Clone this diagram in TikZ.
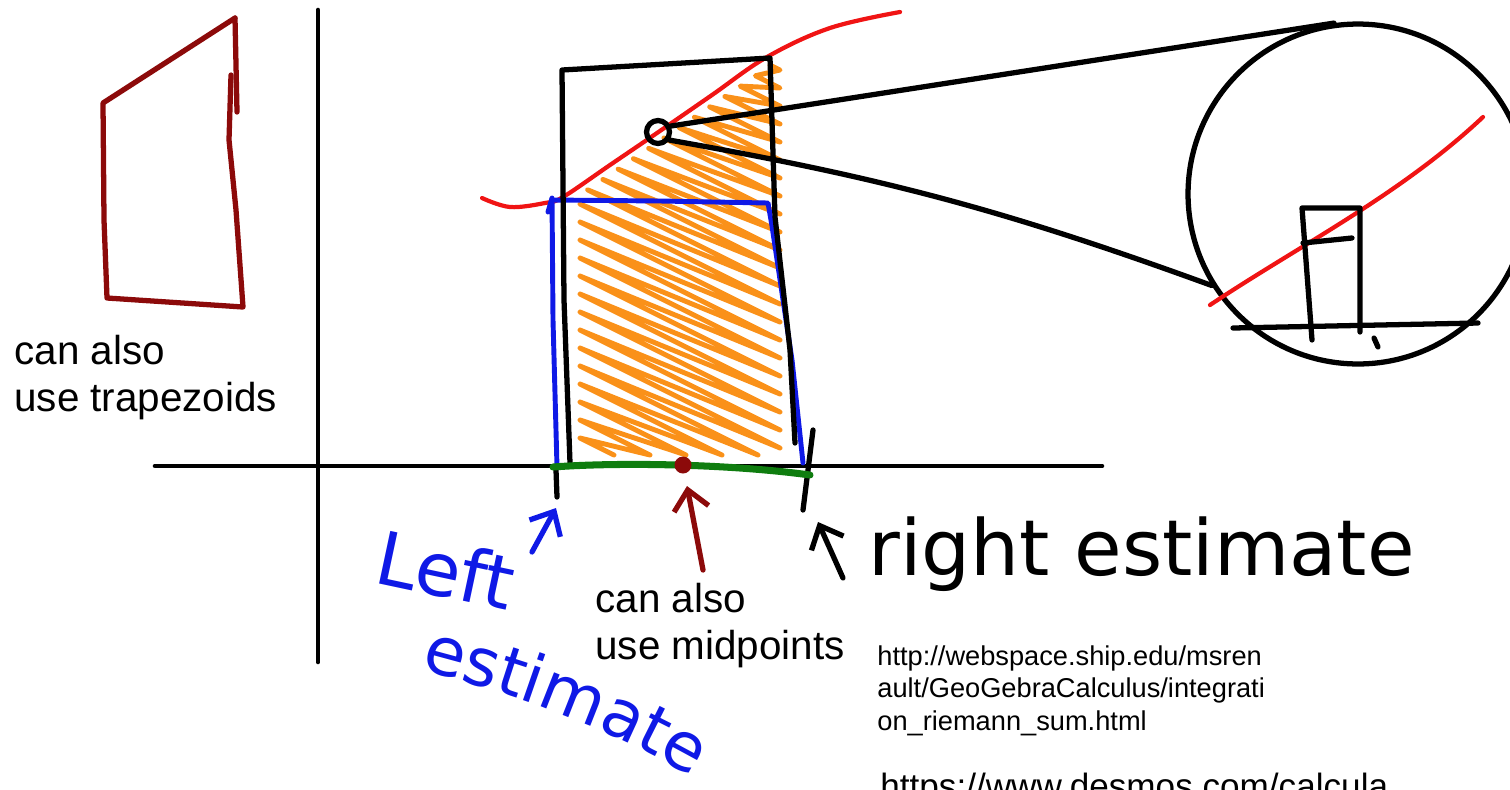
\documentclass[tikz,border=0pt]{standalone}
\usepackage{fontspec}
\setmainfont{Liberation Sans}
\newfontfamily\handfont{DejaVu Sans}
\usetikzlibrary{positioning, arrows.meta, decorations.text}
\definecolor{inkred}{RGB}{240,20,20}
\definecolor{inkblue}{RGB}{15,25,230}
\definecolor{inkorange}{RGB}{250,145,25}
\definecolor{inkgreen}{RGB}{15,125,15}
\definecolor{inkmaroon}{RGB}{140,10,10}
\tikzset{pen/.style={line width=3pt, line cap=round, line join=round}}
\tikzset{axis/.style={pen, line width=2.6pt}}
\tikzset{note/.style={font=\fontsize{23}{26.5}\selectfont, align=left, inner sep=0pt, anchor=north west}}
\tikzset{urlnote/.style={font=\fontsize{15.5}{18.7}\selectfont, align=left, inner sep=0pt, anchor=north west}}
\tikzset{hand/.style={font=\handfont\fontsize{44}{44}\selectfont, inner sep=0pt}}
\tikzset{ring/.style={circle, draw, pen, inner sep=0pt}}
\tikzset{barb/.style={-{Straight Barb[length=11pt, width=20pt]}}}

\begin{document}
\begin{tikzpicture}[x=0.02cm, y=-0.02cm,
  declare function={xs(\cc)=max(0,(195-\cc)/1.18); xe(\cc)=min(200,(455-\cc)/0.5);}]
  \useasboundingbox (0,0) rectangle (1510,789);

  % axes
  \coordinate (ytop) at (318,10);
  \coordinate (ybot) at (318,662);
  \coordinate (xleft) at (155,466);
  \coordinate (xright) at (1102,466);
  \draw[axis] (ybot) -- (ytop);
  \draw[axis] (xleft) -- (xright);

  % trapezoid sketch
  \draw[pen, inkmaroon] (235,18) -- (103,103) -- (104,220) -- (107,298) -- (243,307) -- (236,210) -- (229,140) -- (231,75);
  \draw[pen, inkmaroon] (235,18) -- (237,112);

  % shading under the curve
  \draw[pen, inkorange, line width=2.8pt] (770,65)
    \foreach \cc in {-30,-12,...,440} { -- ({580+xs(\cc)},{\cc+0.5*xs(\cc)}) -- ({580+xe(\cc)},{\cc+0.5*xe(\cc)}) };

  % curve
  \draw[pen, inkred, line width=2.4pt] plot[smooth, tension=0.6] coordinates {(482,198) (510,207) (545,203) (563,197) (610,165) (657,133) (712,95) (767,57) (830,28) (900,12)};

  % left and right rectangles
  \draw[pen, inkblue, line width=2.8pt] (548,212) -- (552,198) -- (553,320) -- (557,467);
  \draw[pen, inkblue, line width=2.8pt] (552,200) -- (660,201) -- (768,203) -- (772,226) -- (792,360) -- (803,463);
  \draw[pen] (570,463) -- (564,300) -- (562,70) -- (770,58) -- (775,217) -- (790,350) -- (795,443);
  \draw[pen] (813,430) -- (803,510);
  \draw[pen] (556,470) -- (557,497);
  \draw[pen, inkgreen, line width=4pt] (553,467) .. controls (620,462) and (730,464) .. (810,475);
  \node[circle, fill=inkmaroon, minimum size=0.34cm, inner sep=0pt] (middot) at (683,465) {};

  % magnifier
  \node[ring, minimum size=0.46cm] (spot) at (658,132) {};
  \node[ring, minimum size=6.8cm] (zoom) at (1358,194) {};
  \draw[pen] (spot.25) -- (zoom.98);
  \draw[pen] (spot.-35) to[bend left=5] (zoom.212);
  \draw[pen, inkred, line width=2.4pt] (1210,305) .. controls (1300,245) and (1400,195) .. (1483,117);
  \draw[pen] (1312,340) -- (1302,208) -- (1360,208) -- (1360,332);
  \draw[pen] (1303,243) -- (1352,238);
  \draw[pen] (1233,328) -- (1478,323);
  \draw[pen] (1374,338) -- (1378,347);

  % arrows
  \coordinate (lefttail) at (532,552);
  \coordinate (lefthead) at (556,508);
  \coordinate (midtail) at (703,570);
  \coordinate (midhead) at (687,486);
  \coordinate (righttail) at (843,578);
  \coordinate (righthead) at (818,522);
  \draw[pen, inkblue, barb] (lefttail) -- (lefthead);
  \draw[pen, inkmaroon, barb] (midtail) -- (midhead);
  \draw[pen, barb] (righttail) -- (righthead);

  % labels
  \node[note] (trapnote) at (14,335) {can also\\use trapezoids};
  \node[note] (midnote) at (595,583) {can also\\use midpoints};
  \node[hand, anchor=base west] (rightnote) at (868,575) {right estimate};
  \node[hand, text=inkblue, font=\handfont\fontsize{42}{42}\selectfont, rotate=-12, anchor=base west] (leftnote) at (372,582) {Left};
  \path[decorate, decoration={text along path, text={|\handfont\fontsize{38}{38}\selectfont\color{inkblue}|estimate}}]
    (420,670) .. controls (520,696) and (605,725) .. (715,790);
  \node[urlnote] (geolink) at (877,645) {http://webspace.ship.edu/msren\\ault/GeoGebraCalculus/integrati\\on\_riemann\_sum.html};
  \node[urlnote, font=\fontsize{20}{24}\selectfont] (desmoslink) at (880,773) {https://www.desmos.com/calcula};

\end{tikzpicture}
\end{document}
